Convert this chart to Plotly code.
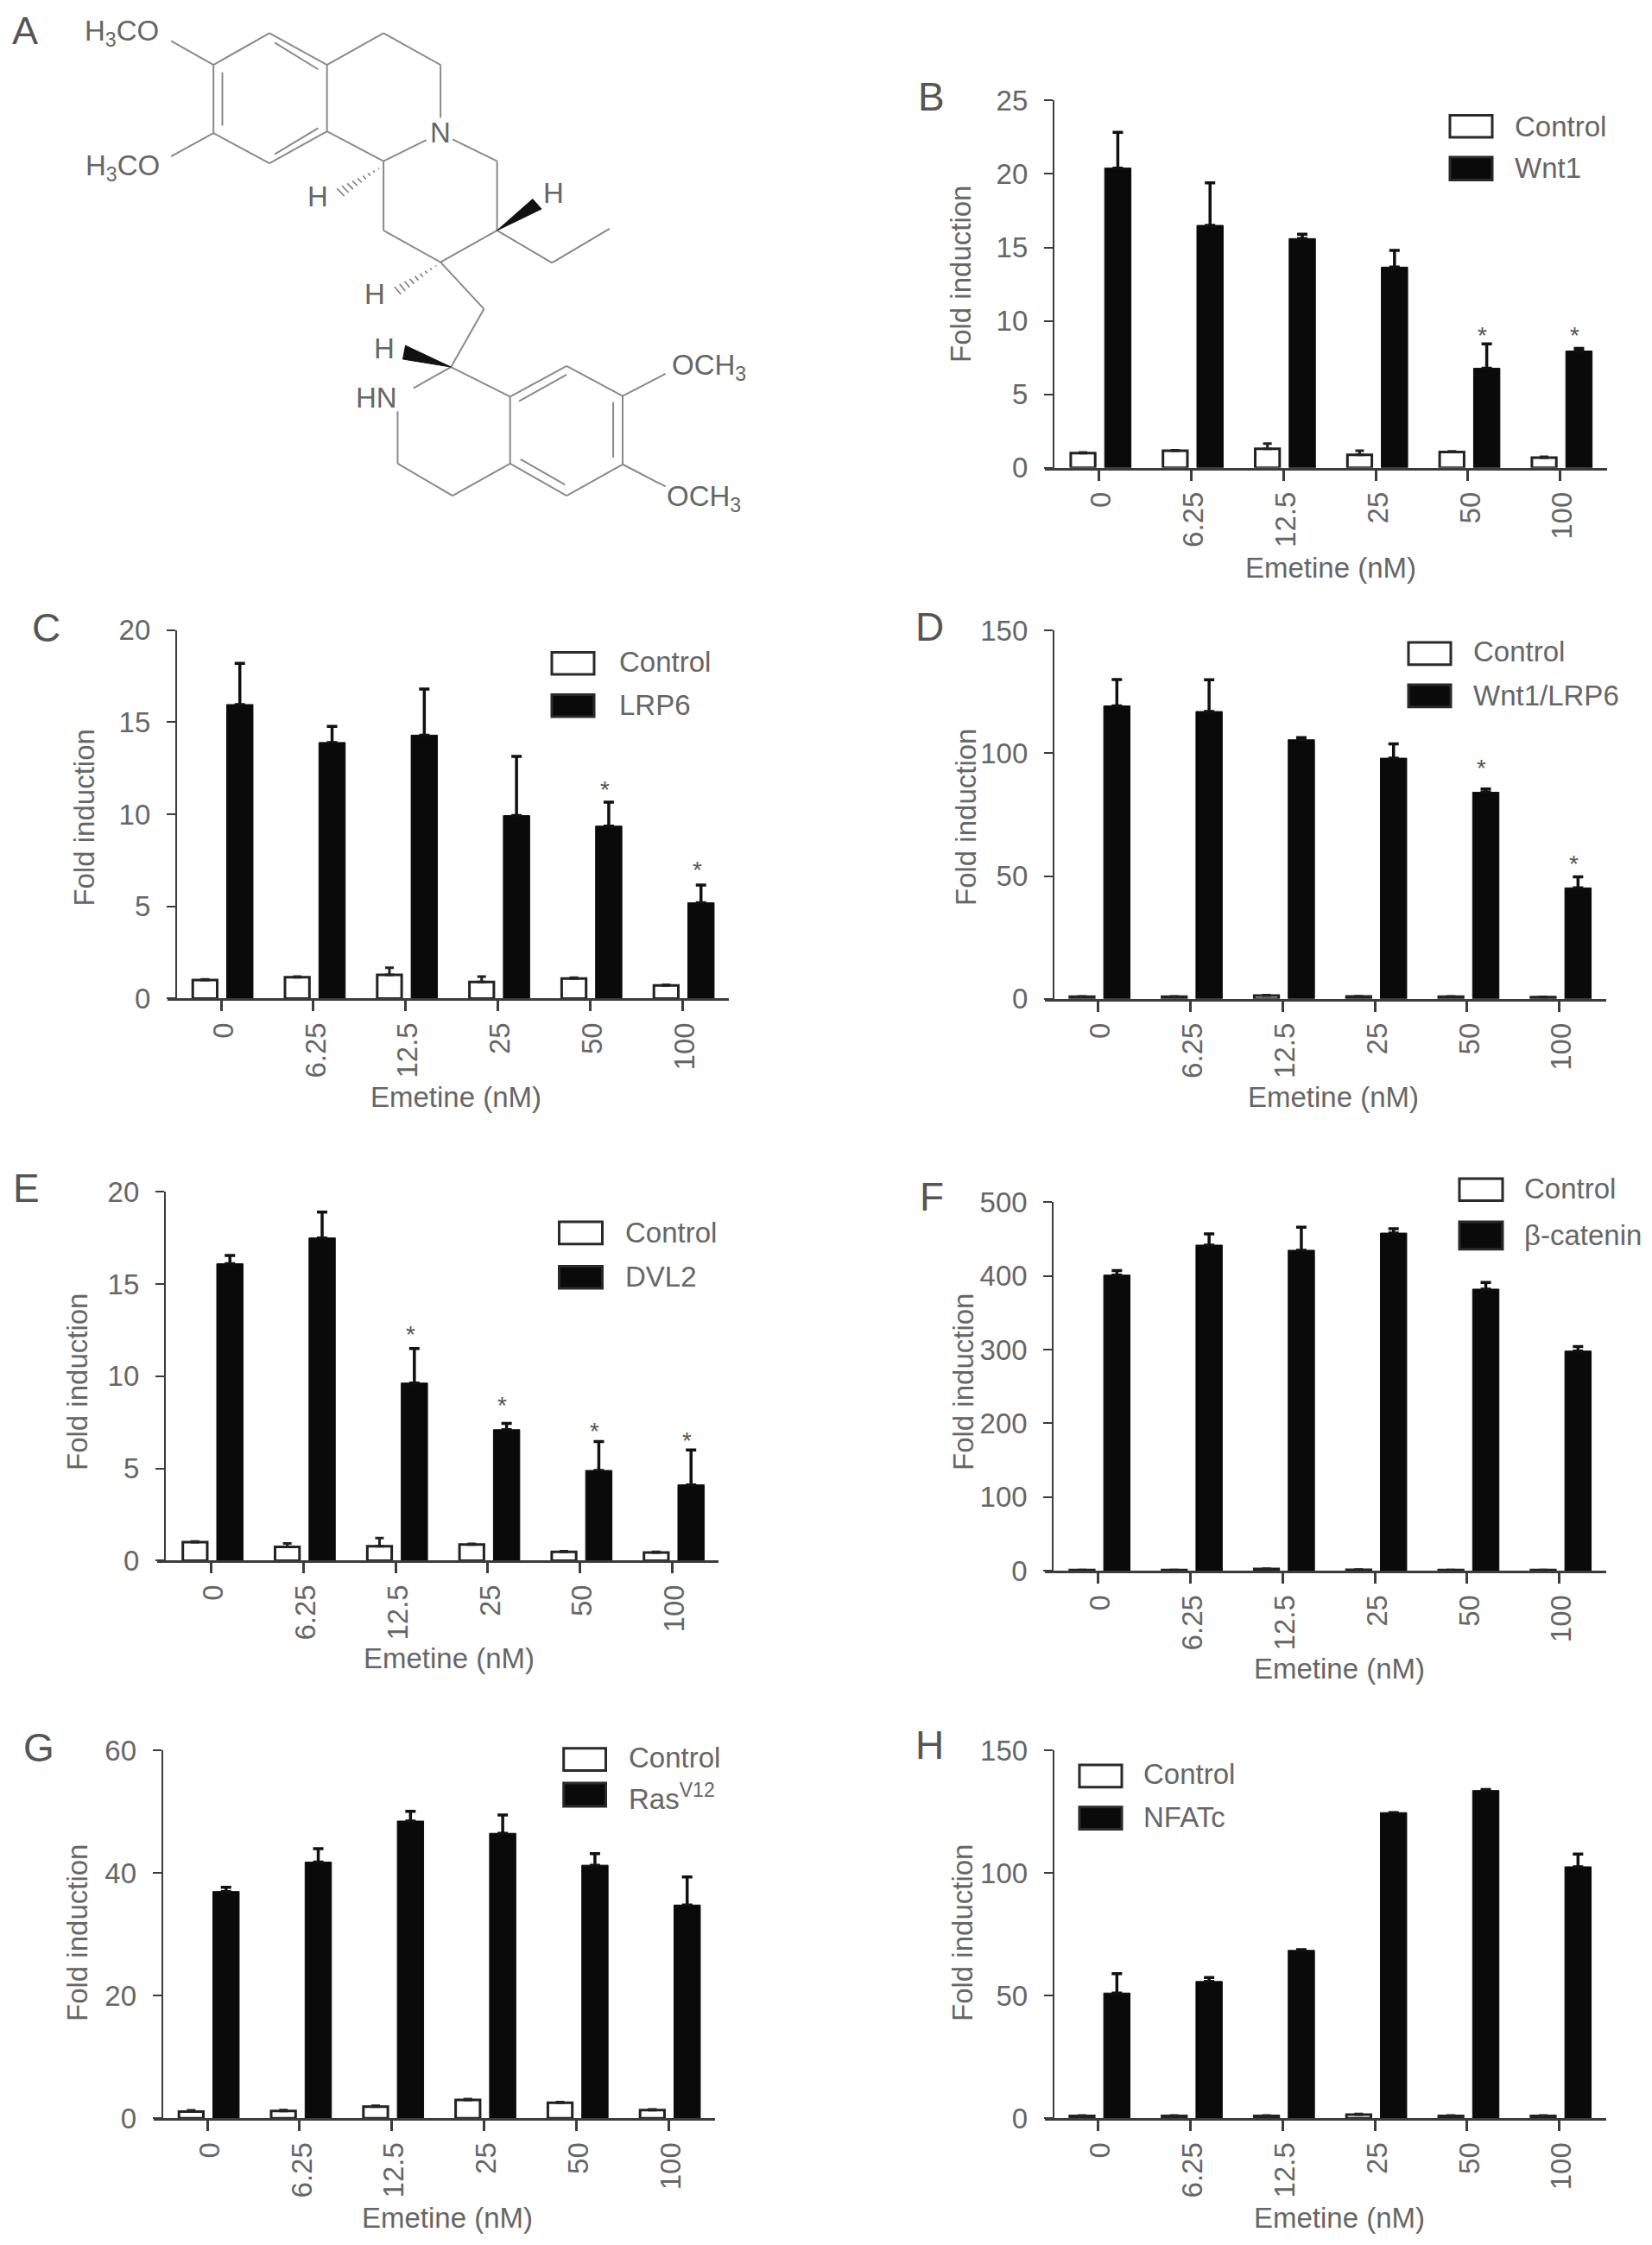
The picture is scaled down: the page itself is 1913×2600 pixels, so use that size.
import plotly.graph_objects as go

PAGE_W = 1913
PAGE_H = 2600
BODY_GAP = 8  # the page body sits the figure 8px in from the top left
FIG_W = PAGE_W - BODY_GAP
FIG_H = PAGE_H - 2 * BODY_GAP
FONT = "Liberation Sans"
TEXT_COLOR = "#666666"
AXIS_COLOR = "#3c3c3c"
BAR_COLOR = "#0a0a0a"

DOSES = ["0", "6.25", "12.5", "25", "50", "100"]

# values: bar tops and tops of the error whiskers
B_CONTROL = [1.0, 1.16, 1.3, 0.88, 1.07, 0.7]
B_CONTROL_TOP = [1.05, 1.2, 1.65, 1.16, 1.12, 0.75]
B_TREATED = [20.4, 16.5, 15.6, 13.66, 6.78, 7.95]
B_TREATED_TOP = [22.84, 19.4, 15.9, 14.8, 8.43, 8.13]
B_STARS = [None, None, None, None, 9.43, 9.43]
B_TICKS = [0, 5, 10, 15, 20, 25]

C_CONTROL = [1.0, 1.15, 1.28, 0.9, 1.09, 0.71]
C_CONTROL_TOP = [1.04, 1.19, 1.67, 1.19, 1.13, 0.75]
C_TREATED = [15.96, 13.9, 14.3, 9.93, 9.36, 5.2]
C_TREATED_TOP = [18.2, 14.77, 16.8, 13.15, 10.66, 6.16]
C_STARS = [None, None, None, None, 11.67, 7.31]
C_TICKS = [0, 5, 10, 15, 20]

D_CONTROL = [0.9, 0.9, 1.3, 1.0, 0.9, 0.7]
D_CONTROL_TOP = [1.0, 1.0, 1.5, 1.1, 1.0, 0.8]
D_TREATED = [119.3, 117.0, 105.5, 98.0, 84.1, 45.2]
D_TREATED_TOP = [130.0, 129.9, 106.4, 103.8, 85.5, 49.7]
D_STARS = [None, None, None, None, 96.3, 57.4]
D_TICKS = [0, 50, 100, 150]

E_CONTROL = [1.0, 0.74, 0.78, 0.87, 0.48, 0.44]
E_CONTROL_TOP = [1.04, 0.93, 1.22, 0.91, 0.51, 0.47]
E_TREATED = [16.1, 17.5, 9.63, 7.1, 4.89, 4.11]
E_TREATED_TOP = [16.55, 18.9, 11.5, 7.44, 6.46, 6.0]
E_STARS = [None, None, 12.57, 8.74, 7.35, 6.85]
E_TICKS = [0, 5, 10, 15, 20]

F_CONTROL = [1.0, 1.0, 2.5, 1.5, 1.0, 1.0]
F_CONTROL_TOP = [1.2, 1.2, 3.0, 1.8, 1.2, 1.2]
F_TREATED = [401, 441.7, 434.7, 458, 382, 298]
F_TREATED_TOP = [407, 457, 466, 464, 391, 304]
F_STARS = [None, None, None, None, None, None]
F_TICKS = [0, 100, 200, 300, 400, 500]

G_CONTROL = [1.1, 1.2, 1.9, 3.0, 2.56, 1.34]
G_CONTROL_TOP = [1.3, 1.35, 2.05, 3.15, 2.65, 1.45]
G_TREATED = [37.0, 41.8, 48.5, 46.5, 41.3, 34.8]
G_TREATED_TOP = [37.7, 44.0, 50.1, 49.5, 43.2, 39.4]
G_STARS = [None, None, None, None, None, None]
G_TICKS = [0, 20, 40, 60]

H_CONTROL = [1.0, 1.0, 1.0, 1.5, 1.0, 1.0]
H_CONTROL_TOP = [1.2, 1.2, 1.2, 1.8, 1.2, 1.2]
H_TREATED = [51.1, 55.8, 68.5, 124.7, 133.7, 102.6]
H_TREATED_TOP = [59.0, 57.4, 68.8, 124.7, 134.1, 107.8]
H_STARS = [None, None, None, None, None, None]
H_TICKS = [0, 50, 100, 150]

# emetine structure, in the coordinates of a 1568x1568 drawing box
MOLECULE_BONDS = [
    [(515, 97), (625, 190)], [(625, 190), (625, 385)], [(625, 385), (515, 478)],
    [(515, 478), (408, 390)], [(408, 390), (408, 190)], [(408, 190), (515, 97)],
    [(525, 125), (608, 203)], [(608, 375), (525, 452)], [(425, 212), (425, 368)],
    [(408, 190), (327, 120)], [(408, 390), (327, 458)],
    [(625, 190), (733, 97)], [(733, 97), (842, 190)], [(842, 190), (842, 345)],
    [(815, 410), (733, 472)], [(625, 385), (733, 472)], [(865, 408), (950, 472)],
    [(950, 472), (950, 675)], [(950, 675), (842, 768)], [(842, 768), (733, 675)],
    [(733, 675), (733, 472)], [(950, 675), (1055, 770)], [(1055, 770), (1165, 670)],
    [(842, 768), (925, 905)], [(925, 905), (862, 1075)], [(862, 1075), (975, 1162)],
    [(862, 1075), (790, 1137)], [(760, 1205), (760, 1358)], [(760, 1358), (865, 1452)],
    [(865, 1452), (975, 1358)], [(975, 1358), (975, 1162)], [(975, 1162), (1083, 1072)],
    [(1083, 1072), (1190, 1160)], [(1190, 1160), (1190, 1360)], [(1190, 1360), (1083, 1452)],
    [(1083, 1452), (975, 1358)], [(992, 1175), (1083, 1097)], [(1172, 1178), (1172, 1340)],
    [(995, 1345), (1080, 1420)], [(1190, 1160), (1272, 1095)], [(1190, 1360), (1272, 1425)],
]
MOLECULE_WEDGES = [
    [(950, 675), (1018, 583), (1035, 612)],
    [(862, 1075), (775, 1012), (770, 1052)],
]
MOLECULE_HASHES = [
    [(733, 485), (644, 552), (658, 574)],
    [(842, 770), (754, 840), (766, 862)],
]
MOLECULE_LABEL_X = [232, 235, 842, 608, 1058, 717, 735, 720, 1355, 1345]
MOLECULE_LABEL_Y = [95, 490, 388, 575, 565, 862, 1020, 1165, 1075, 1460]
MOLECULE_LABELS = ["H<sub>3</sub>CO", "H<sub>3</sub>CO", "N", "H", "H", "H", "H", "HN",
                   "OCH<sub>3</sub>", "OCH<sub>3</sub>"]

fig = go.Figure()
shapes = []
annotations = []


def px_x(x):
    return (x - BODY_GAP) / FIG_W


def px_y(y):
    return 1 - (y - BODY_GAP) / FIG_H


def label(text, x, y, size=33, anchor="center", angle=0, color=TEXT_COLOR):
    annotations.append(dict(
        text=text, x=px_x(x), y=px_y(y), xref="paper", yref="paper",
        xanchor=anchor, yanchor="middle", textangle=angle, showarrow=False,
        font=dict(family=FONT, size=size, color=color),
    ))


def add_panel(idx, letter, name, control, control_top, treated, treated_top, stars, ticks, geo):
    xname, yname = f"x{idx}", f"y{idx}"
    left, axis_x, right, top, bottom, first_tick = geo["box"]
    step = 106.8

    fig.add_trace(go.Bar(
        x=DOSES, y=control, name="Control", xaxis=xname, yaxis=yname,
        width=0.265, offset=-0.307,
        marker=dict(color="white", line=dict(color="#222222", width=3)),
        error_y=dict(type="data", symmetric=False,
                     array=[t - v for t, v in zip(control_top, control)],
                     arrayminus=[0] * len(control),
                     color="#222222", thickness=3, width=5),
    ))
    fig.add_trace(go.Bar(
        x=DOSES, y=treated, name=name, xaxis=xname, yaxis=yname,
        width=0.285, offset=0.061,
        marker=dict(color=BAR_COLOR, line=dict(color=BAR_COLOR, width=1)),
        error_y=dict(type="data", symmetric=False,
                     array=[t - v for t, v in zip(treated_top, treated)],
                     arrayminus=[0] * len(treated),
                     color="#111111", thickness=3.5, width=6),
    ))

    fig.layout[f"xaxis{idx}"] = dict(
        domain=[px_x(left), px_x(right)], anchor=yname, type="category",
        categoryorder="array", categoryarray=DOSES,
        range=[(left - first_tick) / step, (right - first_tick) / step],
        showgrid=False, zeroline=False, showline=True, linecolor=AXIS_COLOR, linewidth=2.5,
        ticks="outside", ticklen=12, tickwidth=2.5, tickcolor=AXIS_COLOR, tickangle=-90,
        ticklabelstandoff=0, ticklabelshift=3, tickfont=dict(family=FONT, size=33, color=TEXT_COLOR),
    )
    fig.layout[f"yaxis{idx}"] = dict(
        domain=[px_y(bottom), px_y(top)], anchor="free", position=px_x(axis_x),
        range=[0, ticks[-1]], tickvals=ticks,
        showgrid=False, zeroline=False, showline=True, linecolor=AXIS_COLOR, linewidth=2.2,
        ticks="outside", ticklen=10, tickwidth=2.2, tickcolor=AXIS_COLOR,
        ticklabelstandoff=12, tickfont=dict(family=FONT, size=33, color=TEXT_COLOR),
    )

    for pos, star in enumerate(stars):
        if star is not None:
            annotations.append(dict(
                text="*", x=pos, y=star, xref=xname, yref=yname, showarrow=False,
                xshift=17, yshift=-7, font=dict(family=FONT, size=28, color="#555555"),
            ))

    # legend block
    for (x0, x1, y0, y1), fill in zip(geo["swatches"], ["white", BAR_COLOR]):
        shapes.append(dict(
            type="rect", xref="paper", yref="paper", x0=px_x(x0), x1=px_x(x1), y0=px_y(y1), y1=px_y(y0),
            fillcolor=fill, line=dict(color="#2a2a2a", width=3),
        ))
    label("Control", geo["legend_x"], geo["legend_y"][0], anchor="left")
    label(name, geo["legend_x"], geo["legend_y"][1], anchor="left")

    label("Emetine (nM)", *geo["xtitle"])
    label("Fold induction", *geo["ytitle"], angle=-90)
    label(letter, *geo["letter"], size=46, color="#555555")


add_panel(1, "B", "Wnt1", B_CONTROL, B_CONTROL_TOP, B_TREATED, B_TREATED_TOP, B_STARS, B_TICKS, dict(
    box=(1210, 1220, 1861, 116.4, 541.8, 1272.7),
    swatches=[(1679, 1728, 133.4, 159), (1679, 1728, 182, 208.5)],
    legend_x=1752, legend_y=(146.4, 194.7), xtitle=(1541, 657), ytitle=(1112, 318), letter=(1078, 111.6)))
add_panel(2, "C", "LRP6", C_CONTROL, C_CONTROL_TOP, C_TREATED, C_TREATED_TOP, C_STARS, C_TICKS, dict(
    box=(193.5, 204, 844, 729.8, 1156.4, 256),
    swatches=[(639, 688, 755.5, 781), (639, 688, 804.5, 830)],
    legend_x=715, legend_y=(767, 816.8), xtitle=(528, 1270), ytitle=(97.6, 947), letter=(53, 727)))
add_panel(3, "D", "Wnt1/LRP6", D_CONTROL, D_CONTROL_TOP, D_TREATED, D_TREATED_TOP, D_STARS, D_TICKS, dict(
    box=(1210, 1220, 1860, 730.2, 1156.8, 1271.6),
    swatches=[(1631, 1680, 744, 769.8), (1631, 1680, 793, 818.8)],
    legend_x=1704, legend_y=(754.3, 805.3), xtitle=(1544, 1270), ytitle=(1119, 947), letter=(1076, 725.7)))
add_panel(4, "E", "DVL2", E_CONTROL, E_CONTROL_TOP, E_TREATED, E_TREATED_TOP, E_STARS, E_TICKS, dict(
    box=(181.5, 191, 832, 1380.3, 1807.4, 244.5),
    swatches=[(647.5, 697.5, 1415, 1440.8), (647.5, 697.5, 1466.5, 1492)],
    legend_x=721.6, legend_y=(1427.8, 1478.4), xtitle=(519.5, 1920), ytitle=(89, 1601), letter=(30, 1375.6)))
add_panel(5, "F", "β-catenin", F_CONTROL, F_CONTROL_TOP, F_TREATED, F_TREATED_TOP, F_STARS, F_TICKS, dict(
    box=(1210, 1219.3, 1859.6, 1392.2, 1819.2, 1271.6),
    swatches=[(1690, 1740, 1365, 1390.6), (1690, 1740, 1415, 1446.8)],
    legend_x=1763, legend_y=(1376.8, 1430.2), xtitle=(1551, 1932), ytitle=(1115, 1601), letter=(1079, 1385.5)))
add_panel(6, "G", "Ras<sup>V12</sup>", G_CONTROL, G_CONTROL_TOP, G_TREATED, G_TREATED_TOP, G_STARS, G_TICKS, dict(
    box=(178, 187.7, 828.2, 2027.4, 2453.3, 240),
    swatches=[(652.7, 701.5, 2024.7, 2050.4), (652.7, 701.5, 2065, 2092)],
    legend_x=726, legend_y=(2035.4, 2080.8), xtitle=(518, 2568), ytitle=(89, 2239), letter=(44.8, 2024)))
add_panel(7, "H", "NFATc", H_CONTROL, H_CONTROL_TOP, H_TREATED, H_TREATED_TOP, H_STARS, H_TICKS, dict(
    box=(1210, 1219.8, 1860, 2027.4, 2453.3, 1271.6),
    swatches=[(1250, 1299, 2044, 2069.8), (1250, 1299, 2092.7, 2118.4)],
    legend_x=1322.3, legend_y=(2054.3, 2104.5), xtitle=(1551, 2568), ytitle=(1114, 2239), letter=(1076, 2021.5)))

# panel A: the structure sits on its own hidden axes
bond_x, bond_y = [], []
for a, b in MOLECULE_BONDS:
    bond_x += [a[0], b[0], None]
    bond_y += [a[1], b[1], None]
fig.add_trace(go.Scatter(
    x=bond_x, y=bond_y, mode="lines", xaxis="x8", yaxis="y8",
    line=dict(color="#8a8a8a", width=2), hoverinfo="skip",
))
for tri in MOLECULE_WEDGES:
    fig.add_trace(go.Scatter(
        x=[p[0] for p in tri] + [tri[0][0]], y=[p[1] for p in tri] + [tri[0][1]],
        mode="lines", fill="toself", fillcolor="#111111", xaxis="x8", yaxis="y8",
        line=dict(color="#111111", width=1), hoverinfo="skip",
    ))
for tip, end_a, end_b in MOLECULE_HASHES:
    hash_x, hash_y = [], []
    for k in range(1, 10):
        t = k / 9
        hash_x += [tip[0] + (end_a[0] - tip[0]) * t, tip[0] + (end_b[0] - tip[0]) * t, None]
        hash_y += [tip[1] + (end_a[1] - tip[1]) * t, tip[1] + (end_b[1] - tip[1]) * t, None]
    fig.add_trace(go.Scatter(
        x=hash_x, y=hash_y, mode="lines", xaxis="x8", yaxis="y8",
        line=dict(color="#777777", width=1.5), hoverinfo="skip",
    ))
for text, x, y in zip(MOLECULE_LABELS, MOLECULE_LABEL_X, MOLECULE_LABEL_Y):
    annotations.append(dict(
        text=text, x=x, y=y, xref="x8", yref="y8", showarrow=False,
        font=dict(family=FONT, size=33, color=TEXT_COLOR),
    ))
fig.layout["xaxis8"] = dict(domain=[0, px_x(950)], anchor="y8", range=[BODY_GAP * 1568 / 950, 1568], visible=False)
fig.layout["yaxis8"] = dict(domain=[px_y(620), 1], anchor="x8", range=[1568, BODY_GAP * 1568 / 620], visible=False)
label("A", 29, 35, size=45, color="#555555")

fig.update_layout(
    width=FIG_W,
    height=FIG_H,
    barmode="overlay",
    showlegend=False,
    template="none",
    paper_bgcolor="white",
    plot_bgcolor="rgba(0,0,0,0)",
    margin=dict(l=0, r=0, t=0, b=0),
    shapes=shapes,
    annotations=annotations,
)
fig.write_html("out.html")
